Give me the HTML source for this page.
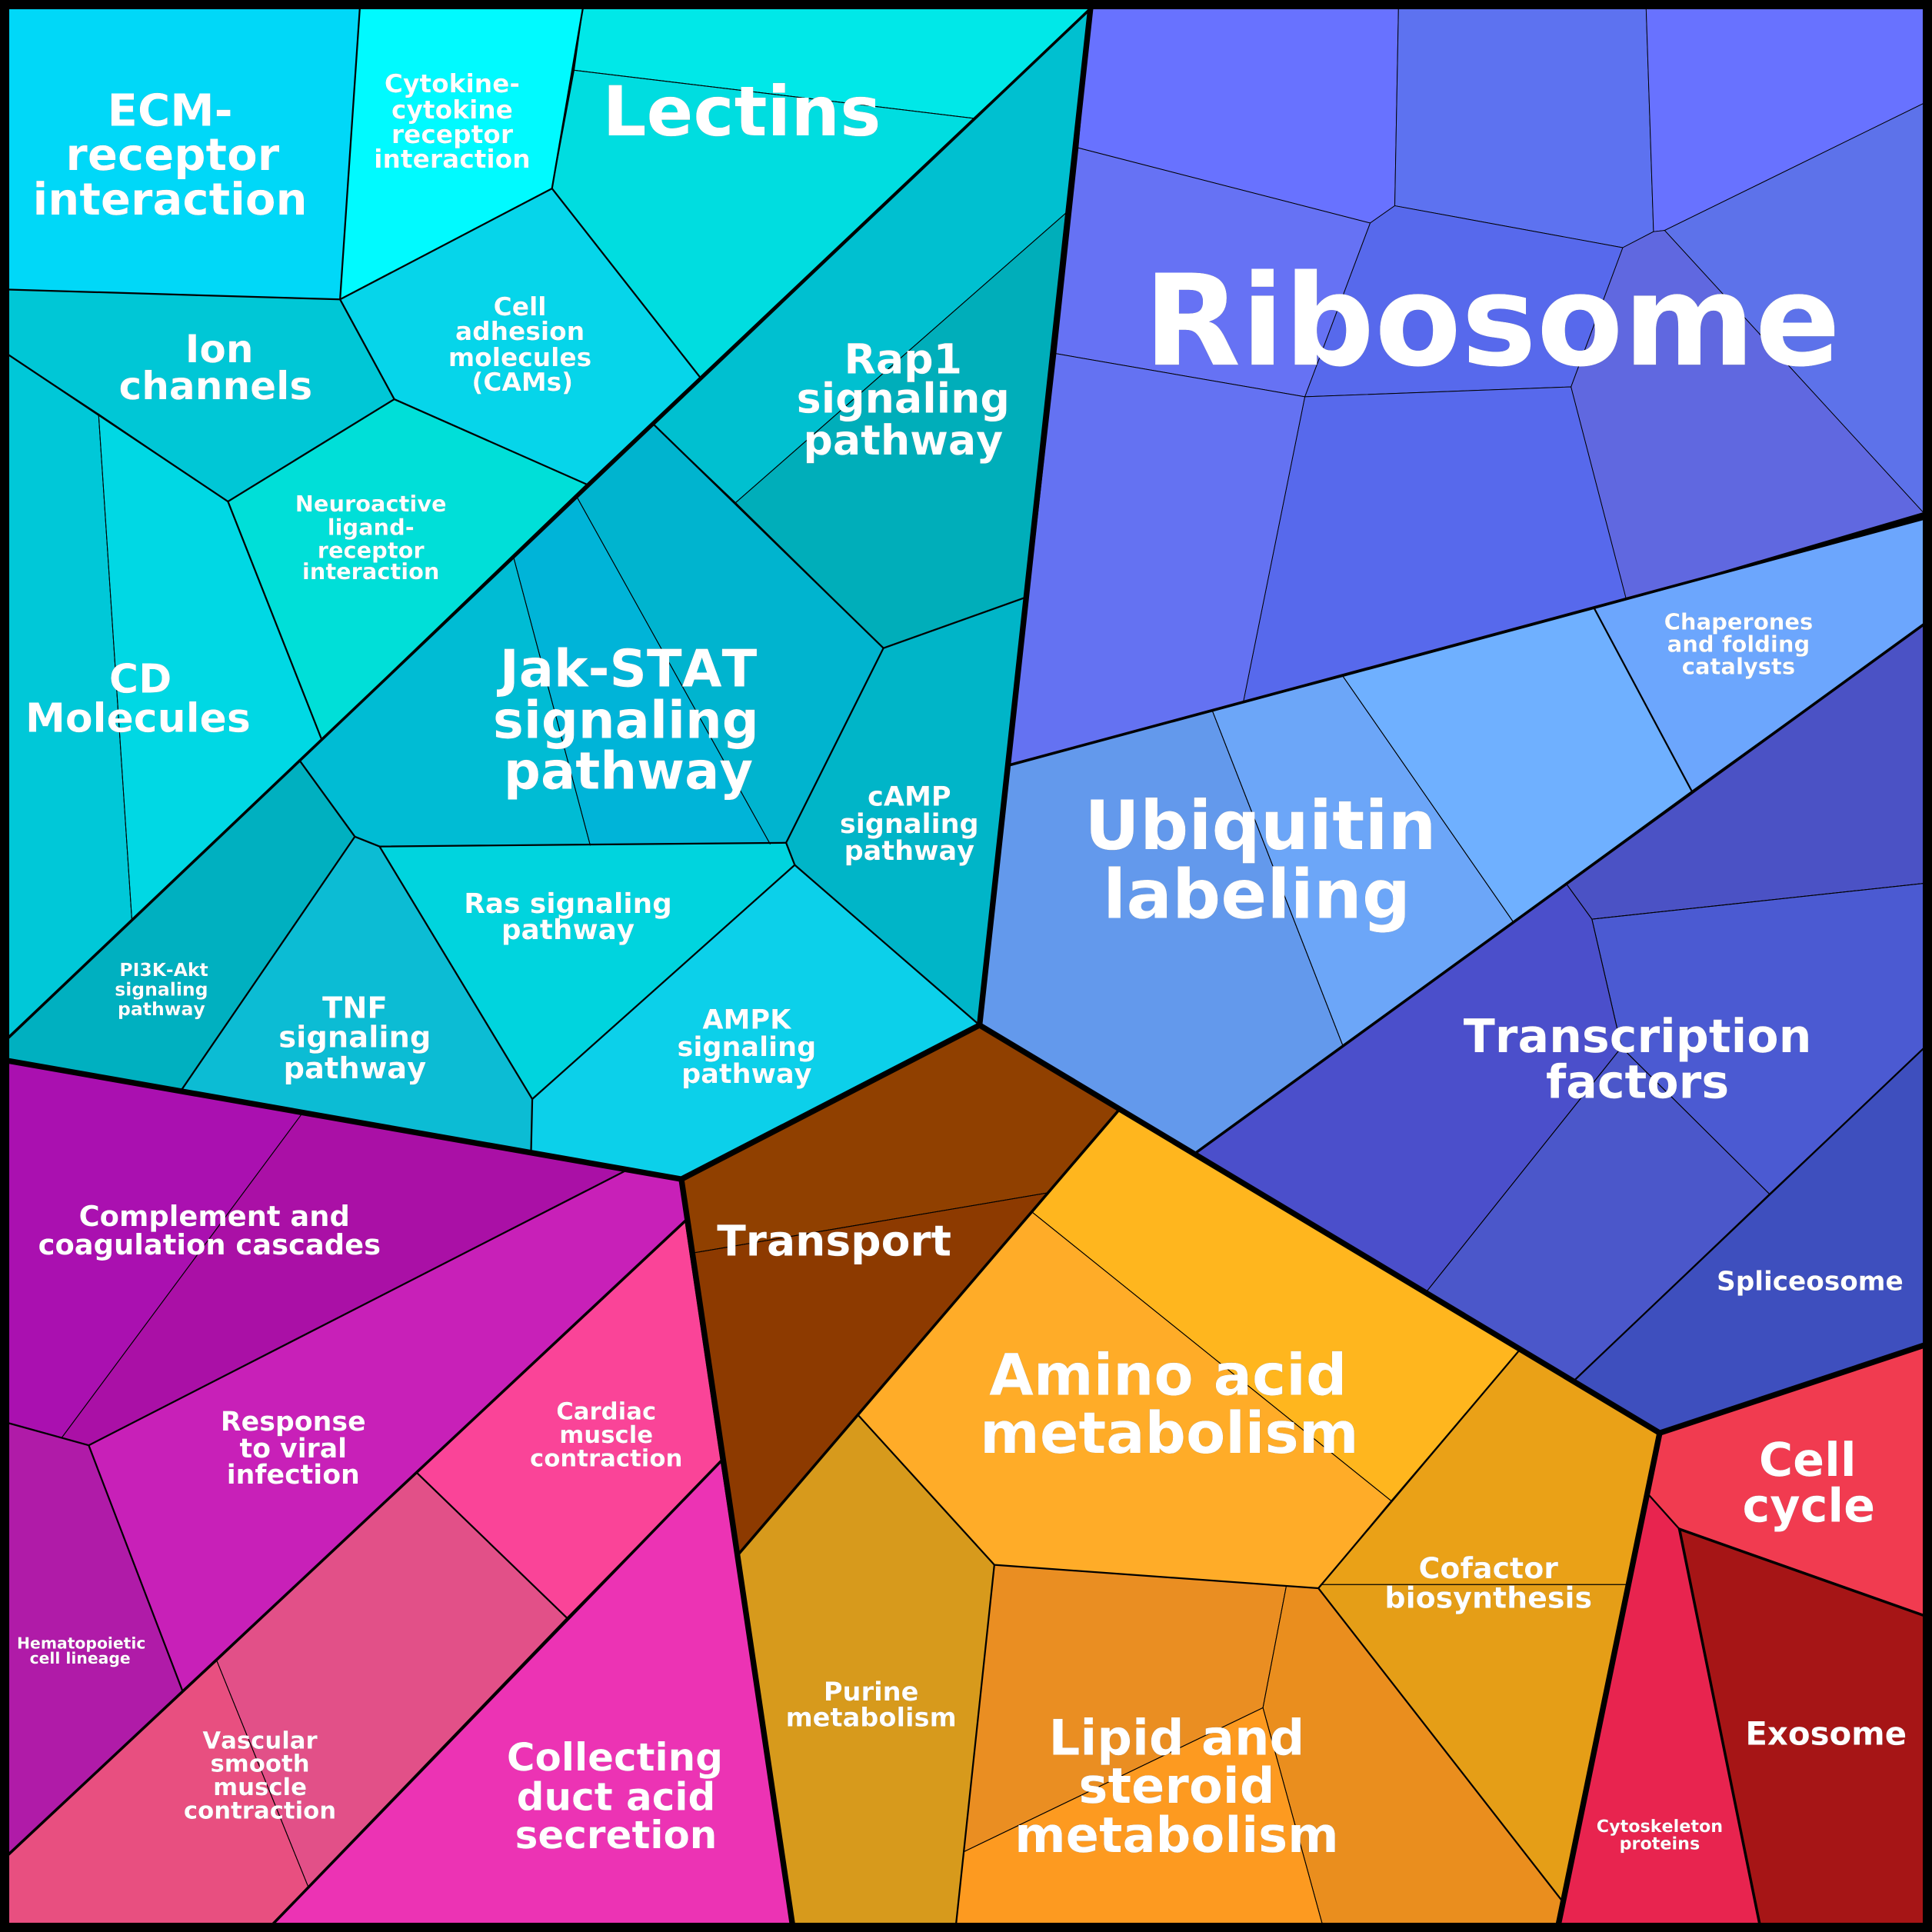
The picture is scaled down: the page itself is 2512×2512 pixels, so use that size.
<!DOCTYPE html>
<html><head><meta charset="utf-8"><style>
html,body{margin:0;padding:0;background:#000}
svg{display:block}
text{font-family:"DejaVu Sans",sans-serif;font-weight:700;fill:#fff;text-anchor:middle;font-kerning:none;text-rendering:geometricPrecision}
polygon{stroke:#000;stroke-width:.6;stroke-linejoin:round}
polyline{fill:none;stroke:#000;stroke-linejoin:round;stroke-linecap:round}
.m polyline{stroke-width:1.4}
.s polyline{stroke-width:.65}
.g polyline{stroke-width:2.2}
.k polyline{stroke-width:4.6}
.tx{filter:drop-shadow(.85px .85px 0 rgba(0,0,0,.85))}
</style></head><body>
<svg xmlns="http://www.w3.org/2000/svg" width="2512" height="2512" viewBox="0 0 1568 1568">
<rect width="1568" height="1568" fill="#000"/>
<!-- Ribosome -->
<polygon fill="#6872ff" points="885,7 1135,7 1132,167 1112,181 875,120"/>
<polygon fill="#5d72f0" points="1135,7 1336,7 1342,188 1317,201 1132,167"/>
<polygon fill="#6872ff" points="1336,7 1561,7 1561,84 1351,187 1342,188"/>
<polygon fill="#5d72ea" points="1561,84 1561,416 1351,187"/>
<polygon fill="#6068e0" points="1342,188 1351,187 1561,416 1320,487 1275,314 1317,201"/>
<polygon fill="#5769ec" points="1132,167 1317,201 1275,314 1059,322 1112,181"/>
<polygon fill="#5769ec" points="1059,322 1275,314 1320,487 1009,570"/>
<polygon fill="#6672f4" points="875,120 1112,181 1059,322 857,287"/>
<polygon fill="#6472f2" points="857,287 1059,322 1009,570 819,621"/>
<!-- Ubiquitin -->
<polygon fill="#6399ec" points="819,621 984,577 1090,849 970,936 795,832"/>
<polygon fill="#6ca6f8" points="984,577 1090,549 1228,748 1090,849"/>
<polygon fill="#6fb0ff" points="1090,549 1294,494 1373,642 1228,748"/>
<polygon fill="#6ca6fd" points="1294,494 1561,421 1561,507 1373,642"/>
<!-- Transcription -->
<polygon fill="#4b52c5" points="1561,507 1561,717 1292,746 1271,717"/>
<polygon fill="#4b5ad2" points="1292,746 1561,717 1561,851 1436,969 1316,850"/>
<polygon fill="#4b4fcb" points="1271,717 1292,746 1316,850 1158,1048 970,936"/>
<polygon fill="#4b57ca" points="1316,850 1436,969 1278,1120 1158,1048"/>
<polygon fill="#3e4fbe" points="1561,851 1561,1092 1347,1163 1278,1120 1436,969"/>
<!-- Cell cycle etc -->
<polygon fill="#f13b50" points="1347,1163 1561,1092 1561,1311 1363,1241 1337,1212"/>
<polygon fill="#a61516" points="1363,1241 1561,1311 1561,1561 1428,1561"/>
<polygon fill="#e8244f" points="1337,1212 1363,1241 1428,1561 1265,1561"/>
<!-- Metabolism -->
<polygon fill="#ffb61e" points="908,901 1233,1096 1129,1218 838,984"/>
<polygon fill="#ffac28" points="838,984 1129,1218 1070,1289 807,1270 696,1148"/>
<polygon fill="#eaa117" points="1233,1096 1347,1163 1265,1561 1268,1543 1070,1289"/>
<polygon fill="#e59e17" points="1072,1286 1322,1286 1265,1561 1268,1543 1070,1289"/>
<polygon fill="#904000" points="795,832 908,901 851,968 562,1017 553,957"/>
<polygon fill="#8d3a00" points="562,1017 851,968 598,1263"/>
<polygon fill="#d79a1c" points="696,1148 807,1270 776,1561 643,1561 598,1263"/>
<polygon fill="#ea8e22" points="807,1270 1044,1287 1025,1386 782,1503"/>
<polygon fill="#ea8e1e" points="1044,1287 1070,1289 1268,1543 1265,1561 1073,1561 1025,1386"/>
<polygon fill="#fd9a20" points="782,1503 1025,1386 1073,1561 776,1561"/>
<!-- Purple -->
<polygon fill="#aa10b0" points="7,861 245,904 50,1167 7,1155"/>
<polygon fill="#aa10a6" points="245,904 508,950 72,1173 50,1167"/>
<polygon fill="#c820b8" points="508,950 553,957 556,991 338,1195 148,1372 72,1173"/>
<polygon fill="#b01ba8" points="7,1155 72,1173 148,1372 7,1505"/>
<polygon fill="#fa4498" points="556,991 585,1186 460,1313 338,1195"/>
<polygon fill="#e25088" points="338,1195 460,1313 250,1531 176,1348"/>
<polygon fill="#e84f80" points="176,1348 250,1531 222,1561 7,1561 7,1505"/>
<polygon fill="#ec33b4" points="585,1186 643,1561 222,1561"/>
<!-- Cyan -->
<polygon fill="#00d8f8" points="7,7 292,7 276,243 7,235"/>
<polygon fill="#00faff" points="292,7 473,7 448,153 276,243"/>
<polygon fill="#00e8e8" points="473,7 885,7 790,96 466,57"/>
<polygon fill="#00dde0" points="466,57 790,96 568,306 448,153"/>
<polygon fill="#06d5ea" points="276,243 448,153 568,306 476,393 320,324"/>
<polygon fill="#00c7d6" points="7,235 276,243 320,324 185,407 80,336 7,288"/>
<polygon fill="#00dfd8" points="320,324 476,393 261,600 185,407"/>
<polygon fill="#00c8d8" points="7,288 80,336 107,746 7,842"/>
<polygon fill="#00d8e4" points="80,336 185,407 261,600 107,746"/>
<polygon fill="#00c0d0" points="885,7 865,173 597,408 530,344"/>
<polygon fill="#00aeba" points="865,173 832,485 717,526 597,408"/>
<polygon fill="#00b5c8" points="832,485 795,832 645,702 638,684 717,526"/>
<polygon fill="#00b4cf" points="530,344 597,408 717,526 638,684 625,685 468,403"/>
<polygon fill="#00b4d8" points="468,403 625,685 479,686 417,453"/>
<polygon fill="#00bcd4" points="417,453 479,686 308,687 288,679 243,617"/>
<polygon fill="#00d4de" points="308,687 638,684 645,702 432,892"/>
<polygon fill="#0cbcd4" points="288,679 308,687 432,892 431,935 147,885"/>
<polygon fill="#00b0c0" points="7,842 243,617 288,679 147,885 7,861"/>
<polygon fill="#0cd0ea" points="645,702 795,832 553,957 431,935 432,892"/>

<g class="s">
<polyline points="466,57 790,96"/><polyline points="80,336 107,746"/><polyline points="865,173 597,408"/>
<polyline points="468,403 625,685"/><polyline points="417,453 479,686"/>
<polyline points="984,577 1090,849"/><polyline points="1090,549 1228,748"/>
<polyline points="1271,717 1292,746 1561,717"/><polyline points="1292,746 1316,850 1436,969"/><polyline points="1316,850 1158,1048"/>
<polyline points="245,904 50,1167"/><polyline points="176,1348 250,1531"/>
<polyline points="838,984 1129,1218"/><polyline points="1072,1286 1322,1286"/>
<polyline points="1044,1287 1025,1386 1073,1561"/><polyline points="1025,1386 782,1503"/><polyline points="562,1017 851,968"/>
</g>
<g class="m">
<polyline points="292,7 276,243"/><polyline points="7,235 276,243"/><polyline points="473,7 448,153"/><polyline points="276,243 448,153 568,306"/>
<polyline points="276,243 320,324 476,393"/><polyline points="261,600 185,407 320,324"/><polyline points="7,288 185,407"/>
<polyline points="530,344 717,526 832,485"/><polyline points="717,526 638,684 645,702 795,832"/><polyline points="645,702 432,892 431,935"/>
<polyline points="243,617 288,679 308,687 638,684"/><polyline points="288,679 147,885"/><polyline points="308,687 432,892"/>
<polyline points="1294,494 1373,642"/><polyline points="1561,851 1278,1120"/>
<polyline points="508,950 72,1173 7,1155"/><polyline points="72,1173 148,1372"/><polyline points="338,1195 460,1313"/>
<polyline points="696,1148 807,1270 1070,1289"/><polyline points="1233,1096 1070,1289 1268,1543"/><polyline points="807,1270 776,1561"/>
<polyline points="1337,1212 1363,1241"/>
</g>
<g class="g">
<polyline points="885,7 7,842"/><polyline points="819,621 1561,421"/><polyline points="970,936 1561,507"/>
<polyline points="556,991 7,1505"/><polyline points="585,1186 222,1561"/>
<polyline points="908,901 598,1263"/>
<polyline points="1363,1241 1561,1311"/><polyline points="1363,1241 1428,1561"/>
</g>
<g class="k">
<polyline points="885,7 795,832"/><polyline points="795,832 553,957 7,861"/><polyline points="553,957 643,1561"/>
<polyline points="795,832 1347,1163"/><polyline points="1347,1163 1561,1092"/><polyline points="1347,1163 1265,1561"/>
</g>
<rect x="3.75" y="3.75" width="1560.5" height="1560.5" fill="none" stroke="#000" stroke-width="7.5"/>

<g class="tx">
<text x="1211" y="296" font-size="102.5">Ribosome</text>
<text x="602" y="110" font-size="56">Lectins</text>
<g font-size="36"><text x="138" y="102">ECM-</text><text x="140" y="138">receptor</text><text x="138" y="174">interaction</text></g>
<g font-size="20.5"><text x="367" y="75">Cytokine-</text><text x="367" y="96">cytokine</text><text x="367" y="116">receptor</text><text x="367" y="136">interaction</text></g>
<g font-size="31.3"><text x="178" y="294">Ion</text><text x="175" y="324">channels</text></g>
<g font-size="20.5"><text x="422" y="256">Cell</text><text x="422" y="276">adhesion</text><text x="422" y="297">molecules</text><text x="424" y="317">(CAMs)</text></g>
<g font-size="18"><text x="301" y="415">Neuroactive</text><text x="301" y="434">ligand-</text><text x="301" y="453">receptor</text><text x="301" y="470">interaction</text></g>
<g font-size="32.5"><text x="114" y="562">CD</text><text x="112" y="594">Molecules</text></g>
<g font-size="33.6"><text x="733" y="303">Rap1</text><text x="733" y="335">signaling</text><text x="733" y="369">pathway</text></g>
<g font-size="41.9"><text x="510" y="557">Jak-STAT</text><text x="508" y="599">signaling</text><text x="510" y="640">pathway</text></g>
<g font-size="21.9"><text x="738" y="654">cAMP</text><text x="738" y="676">signaling</text><text x="738" y="698">pathway</text></g>
<g font-size="22.4"><text x="461" y="741">Ras signaling</text><text x="461" y="762">pathway</text></g>
<g font-size="21.9"><text x="606" y="835">AMPK</text><text x="606" y="857">signaling</text><text x="606" y="879">pathway</text></g>
<g font-size="24"><text x="288" y="826">TNF</text><text x="288" y="850">signaling</text><text x="288" y="875">pathway</text></g>
<g font-size="14.7"><text x="133" y="792">PI3K-Akt</text><text x="131" y="808">signaling</text><text x="131" y="824">pathway</text></g>
<g font-size="55.2"><text x="1023" y="689">Ubiquitin</text><text x="1020" y="745">labeling</text></g>
<g font-size="18.1"><text x="1411" y="511">Chaperones</text><text x="1411" y="529">and folding</text><text x="1411" y="547">catalysts</text></g>
<g font-size="37.6"><text x="1329" y="854">Transcription</text><text x="1329" y="891">factors</text></g>
<text x="1469" y="1047" font-size="21.4">Spliceosome</text>
<g font-size="37.7"><text x="1467" y="1198">Cell</text><text x="1468" y="1235">cycle</text></g>
<text x="1482" y="1416" font-size="26.1">Exosome</text>
<g font-size="13.9"><text x="1347" y="1487">Cytoskeleton</text><text x="1347" y="1501">proteins</text></g>
<g font-size="46.6"><text x="948" y="1132">Amino acid</text><text x="949" y="1179">metabolism</text></g>
<g font-size="23.7"><text x="1208" y="1281">Cofactor</text><text x="1208" y="1305">biosynthesis</text></g>
<g font-size="39.9"><text x="955" y="1424">Lipid and</text><text x="955" y="1463">steroid</text><text x="955" y="1503">metabolism</text></g>
<g font-size="21"><text x="707" y="1380">Purine</text><text x="707" y="1401">metabolism</text></g>
<text x="677" y="1019" font-size="34.4">Transport</text>
<g font-size="23"><text x="174" y="995">Complement and</text><text x="170" y="1018">coagulation cascades</text></g>
<g font-size="21.7"><text x="238" y="1161">Response</text><text x="238" y="1183">to viral</text><text x="238" y="1204">infection</text></g>
<g font-size="19.2"><text x="492" y="1152">Cardiac</text><text x="492" y="1171">muscle</text><text x="492" y="1190">contraction</text></g>
<g font-size="12.7"><text x="66" y="1338">Hematopoietic</text><text x="65" y="1350">cell lineage</text></g>
<g font-size="19.2"><text x="211" y="1419">Vascular</text><text x="211" y="1438">smooth</text><text x="211" y="1457">muscle</text><text x="211" y="1476">contraction</text></g>
<g font-size="31.2"><text x="499" y="1437">Collecting</text><text x="500" y="1469">duct acid</text><text x="500" y="1500">secretion</text></g>
</g>
</svg>
</body></html>
